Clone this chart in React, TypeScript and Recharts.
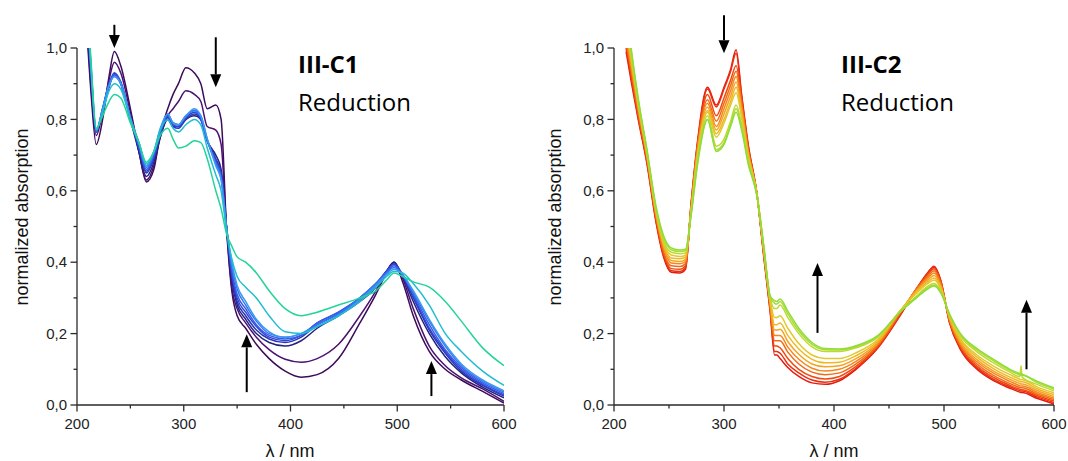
import React from 'react';
import { LineChart, Line, XAxis, YAxis, ReferenceLine } from 'recharts';

// ---------- left panel (III-C1) ----------
const WL_L = [209, 213, 218, 224, 230, 235, 241, 250, 258, 265, 272, 278, 285, 290, 295, 302, 310, 316, 322, 330, 335, 340, 345, 350, 358, 368, 380, 395, 410, 425, 445, 465, 480, 490, 497, 505, 515, 530, 545, 560, 580, 600];

const C1_A = [1.06, 0.88, 0.73, 0.8, 0.92, 0.99, 0.95, 0.83, 0.71, 0.625, 0.66, 0.76, 0.83, 0.87, 0.9, 0.945, 0.93, 0.9, 0.83, 0.84, 0.8, 0.5, 0.32, 0.25, 0.215, 0.17, 0.13, 0.095, 0.078, 0.085, 0.13, 0.23, 0.31, 0.37, 0.4, 0.345, 0.25, 0.15, 0.1, 0.07, 0.038, 0.005];
const C1_B = [1.08, 0.9, 0.755, 0.82, 0.91, 0.96, 0.93, 0.82, 0.71, 0.63, 0.67, 0.75, 0.81, 0.83, 0.85, 0.88, 0.87, 0.85, 0.78, 0.77, 0.73, 0.5, 0.33, 0.27, 0.23, 0.19, 0.155, 0.128, 0.12, 0.13, 0.17, 0.25, 0.32, 0.375, 0.4, 0.355, 0.27, 0.165, 0.11, 0.076, 0.045, 0.01];
const C1_C = [1.1, 0.92, 0.765, 0.82, 0.89, 0.93, 0.9, 0.8, 0.71, 0.64, 0.68, 0.75, 0.8, 0.78, 0.78, 0.8, 0.81, 0.8, 0.74, 0.7, 0.66, 0.5, 0.35, 0.28, 0.24, 0.2, 0.175, 0.165, 0.18, 0.215, 0.25, 0.29, 0.33, 0.375, 0.4, 0.36, 0.29, 0.2, 0.135, 0.09, 0.05, 0.02];
const C1_D = [1.11, 0.93, 0.765, 0.83, 0.895, 0.925, 0.9, 0.8, 0.72, 0.65, 0.69, 0.755, 0.805, 0.78, 0.775, 0.8, 0.815, 0.8, 0.74, 0.69, 0.65, 0.5, 0.36, 0.29, 0.25, 0.21, 0.185, 0.175, 0.19, 0.225, 0.255, 0.295, 0.335, 0.375, 0.395, 0.36, 0.3, 0.21, 0.145, 0.095, 0.055, 0.025];
const C1_E = [1.12, 0.94, 0.765, 0.83, 0.9, 0.93, 0.905, 0.8, 0.72, 0.655, 0.695, 0.76, 0.81, 0.785, 0.78, 0.805, 0.82, 0.8, 0.74, 0.685, 0.645, 0.5, 0.37, 0.3, 0.26, 0.22, 0.19, 0.18, 0.195, 0.23, 0.26, 0.3, 0.34, 0.375, 0.395, 0.365, 0.305, 0.215, 0.15, 0.1, 0.058, 0.028];
const C1_F = [1.12, 0.94, 0.765, 0.83, 0.9, 0.925, 0.905, 0.805, 0.725, 0.66, 0.7, 0.765, 0.81, 0.79, 0.785, 0.81, 0.825, 0.805, 0.74, 0.68, 0.64, 0.5, 0.38, 0.31, 0.27, 0.225, 0.195, 0.185, 0.195, 0.23, 0.26, 0.3, 0.34, 0.37, 0.39, 0.365, 0.31, 0.225, 0.155, 0.105, 0.062, 0.032];
const C1_G = [1.13, 0.95, 0.77, 0.83, 0.895, 0.92, 0.9, 0.805, 0.73, 0.665, 0.705, 0.77, 0.815, 0.79, 0.785, 0.81, 0.825, 0.81, 0.745, 0.675, 0.635, 0.5, 0.39, 0.325, 0.28, 0.235, 0.2, 0.19, 0.2, 0.225, 0.255, 0.3, 0.34, 0.37, 0.385, 0.365, 0.315, 0.235, 0.165, 0.11, 0.066, 0.036];
const C1_H = [1.13, 0.95, 0.77, 0.83, 0.895, 0.92, 0.9, 0.805, 0.735, 0.67, 0.71, 0.775, 0.815, 0.79, 0.785, 0.81, 0.83, 0.81, 0.745, 0.67, 0.63, 0.5, 0.4, 0.335, 0.29, 0.24, 0.205, 0.19, 0.2, 0.22, 0.25, 0.295, 0.335, 0.365, 0.38, 0.365, 0.32, 0.24, 0.17, 0.115, 0.07, 0.04];
const C1_I = [1.14, 0.96, 0.77, 0.82, 0.88, 0.9, 0.885, 0.8, 0.735, 0.675, 0.71, 0.77, 0.8, 0.775, 0.765, 0.785, 0.8, 0.785, 0.72, 0.645, 0.6, 0.49, 0.41, 0.36, 0.33, 0.3, 0.25, 0.205, 0.2, 0.22, 0.25, 0.29, 0.33, 0.36, 0.375, 0.37, 0.34, 0.28, 0.2, 0.15, 0.095, 0.055];
const C1_J = [1.15, 0.97, 0.775, 0.81, 0.85, 0.87, 0.86, 0.79, 0.735, 0.68, 0.71, 0.755, 0.775, 0.745, 0.72, 0.725, 0.74, 0.735, 0.69, 0.6, 0.55, 0.48, 0.445, 0.415, 0.4, 0.37, 0.32, 0.27, 0.25, 0.26, 0.28, 0.3, 0.32, 0.35, 0.37, 0.36, 0.345, 0.33, 0.29, 0.235, 0.16, 0.11];

// ---------- right panel (III-C2) ----------
const WL_R = [211, 216, 222, 230, 238, 245, 252, 260, 265, 270, 276, 285, 293, 300, 306, 311, 316, 322, 330, 336, 342, 346, 348, 351, 358, 368, 380, 392, 405, 420, 440, 460, 475, 485, 491, 497, 505, 515, 530, 545, 560, 569, 570, 571, 585, 600];

const C2_1 = [0.99, 0.9, 0.8, 0.675, 0.515, 0.415, 0.372, 0.37, 0.38, 0.56, 0.74, 0.89, 0.84, 0.89, 0.94, 0.995, 0.87, 0.73, 0.59, 0.42, 0.26, 0.14, 0.14, 0.13, 0.105, 0.08, 0.062, 0.058, 0.068, 0.1, 0.16, 0.25, 0.325, 0.37, 0.389, 0.35, 0.23, 0.155, 0.1, 0.068, 0.047, 0.036, 0.035, 0.035, 0.018, 0.003];
const C2_2 = [1.0, 0.91, 0.805, 0.68, 0.52, 0.42, 0.376, 0.374, 0.384, 0.56, 0.735, 0.885, 0.835, 0.885, 0.935, 0.985, 0.865, 0.725, 0.59, 0.423, 0.265, 0.15, 0.15, 0.145, 0.115, 0.09, 0.07, 0.064, 0.072, 0.103, 0.162, 0.252, 0.326, 0.368, 0.386, 0.348, 0.232, 0.158, 0.104, 0.072, 0.051, 0.04, 0.039, 0.039, 0.022, 0.007];
const C2_3 = [1.01, 0.92, 0.81, 0.685, 0.525, 0.425, 0.382, 0.38, 0.39, 0.555, 0.73, 0.87, 0.81, 0.86, 0.91, 0.95, 0.855, 0.72, 0.59, 0.426, 0.27, 0.165, 0.165, 0.16, 0.13, 0.1, 0.08, 0.073, 0.08, 0.108, 0.165, 0.255, 0.326, 0.365, 0.382, 0.346, 0.235, 0.162, 0.109, 0.077, 0.055, 0.044, 0.043, 0.043, 0.026, 0.011];
const C2_4 = [1.02, 0.93, 0.82, 0.69, 0.53, 0.43, 0.39, 0.388, 0.396, 0.55, 0.725, 0.855, 0.795, 0.845, 0.895, 0.935, 0.845, 0.715, 0.59, 0.43, 0.275, 0.18, 0.18, 0.18, 0.148, 0.115, 0.092, 0.085, 0.09, 0.115, 0.168, 0.257, 0.325, 0.36, 0.376, 0.342, 0.237, 0.166, 0.115, 0.083, 0.06, 0.049, 0.048, 0.048, 0.03, 0.015];
const C2_5 = [1.03, 0.94, 0.83, 0.695, 0.535, 0.44, 0.398, 0.396, 0.402, 0.55, 0.72, 0.845, 0.78, 0.83, 0.88, 0.92, 0.835, 0.71, 0.59, 0.433, 0.28, 0.195, 0.195, 0.195, 0.162, 0.128, 0.103, 0.095, 0.1, 0.122, 0.172, 0.26, 0.323, 0.355, 0.37, 0.338, 0.24, 0.171, 0.121, 0.089, 0.066, 0.054, 0.053, 0.053, 0.035, 0.019];
const C2_6 = [1.05, 0.95, 0.835, 0.7, 0.54, 0.445, 0.405, 0.402, 0.408, 0.545, 0.71, 0.835, 0.77, 0.815, 0.865, 0.905, 0.825, 0.705, 0.59, 0.436, 0.285, 0.21, 0.21, 0.212, 0.178, 0.142, 0.115, 0.107, 0.11, 0.13, 0.176, 0.262, 0.32, 0.35, 0.363, 0.334, 0.243, 0.176, 0.127, 0.095, 0.072, 0.06, 0.059, 0.059, 0.04, 0.024];
const C2_7 = [1.06, 0.96, 0.84, 0.7, 0.545, 0.45, 0.412, 0.41, 0.414, 0.54, 0.705, 0.825, 0.76, 0.8, 0.85, 0.89, 0.815, 0.7, 0.59, 0.44, 0.29, 0.225, 0.225, 0.23, 0.195, 0.157, 0.128, 0.118, 0.12, 0.138, 0.18, 0.263, 0.317, 0.345, 0.356, 0.33, 0.246, 0.181, 0.134, 0.102, 0.078, 0.066, 0.065, 0.065, 0.045, 0.029];
const C2_8 = [1.07, 0.965, 0.845, 0.705, 0.55, 0.455, 0.42, 0.416, 0.42, 0.54, 0.7, 0.82, 0.75, 0.79, 0.84, 0.875, 0.805, 0.695, 0.588, 0.443, 0.295, 0.245, 0.245, 0.25, 0.215, 0.172, 0.14, 0.13, 0.13, 0.146, 0.184, 0.264, 0.313, 0.34, 0.35, 0.326, 0.249, 0.186, 0.14, 0.109, 0.085, 0.072, 0.071, 0.071, 0.05, 0.034];
const C2_9 = [1.09, 0.975, 0.85, 0.71, 0.55, 0.46, 0.428, 0.424, 0.426, 0.535, 0.69, 0.81, 0.725, 0.745, 0.795, 0.84, 0.785, 0.685, 0.587, 0.446, 0.3, 0.27, 0.27, 0.28, 0.245, 0.2, 0.163, 0.15, 0.15, 0.16, 0.19, 0.262, 0.305, 0.332, 0.34, 0.32, 0.252, 0.193, 0.149, 0.118, 0.092, 0.079, 0.11, 0.078, 0.057, 0.04];
const C2_10 = [1.1, 0.985, 0.855, 0.71, 0.555, 0.47, 0.435, 0.43, 0.432, 0.53, 0.68, 0.8, 0.715, 0.735, 0.785, 0.83, 0.78, 0.68, 0.586, 0.448, 0.302, 0.285, 0.283, 0.29, 0.255, 0.208, 0.17, 0.155, 0.154, 0.163, 0.193, 0.261, 0.302, 0.328, 0.336, 0.317, 0.254, 0.197, 0.154, 0.124, 0.097, 0.084, 0.083, 0.083, 0.062, 0.045];
const C2_11 = [1.12, 0.99, 0.86, 0.715, 0.56, 0.475, 0.44, 0.434, 0.436, 0.53, 0.675, 0.8, 0.71, 0.73, 0.78, 0.82, 0.77, 0.675, 0.585, 0.45, 0.305, 0.292, 0.29, 0.297, 0.263, 0.215, 0.175, 0.158, 0.157, 0.166, 0.195, 0.26, 0.3, 0.325, 0.333, 0.314, 0.255, 0.2, 0.158, 0.128, 0.1, 0.088, 0.087, 0.086, 0.066, 0.048];

const X_TICKS = [200, 250, 300, 350, 400, 450, 500, 550, 600];
const Y_TICKS = [0, 0.1, 0.2, 0.3, 0.4, 0.5, 0.6, 0.7, 0.8, 0.9, 1.0];

// arrows in data units: wavelength, start value, tip value
const ARROWS_L = [
  { x: 235, from: 1.065, to: 1.0 },
  { x: 330, from: 1.03, to: 0.89 },
  { x: 359, from: 0.036, to: 0.198 },
  { x: 532, from: 0.025, to: 0.123 },
];
const ARROWS_R = [
  { x: 300, from: 1.092, to: 0.985 },
  { x: 385, from: 0.202, to: 0.398 },
  { x: 575, from: 0.1, to: 0.295 },
];

const C1_SERIES = [C1_A, C1_B, C1_C, C1_D, C1_E, C1_F, C1_G, C1_H, C1_I, C1_J];
const C1_COLORS = ['#3c0a5a', '#4b1272', '#24247e', '#2a36b4', '#3145d6', '#3a5ae8', '#3377f0', '#3a98f2', '#20bcd2', '#22d49c'];
const C2_SERIES = [C2_1, C2_2, C2_3, C2_4, C2_5, C2_6, C2_7, C2_8, C2_9, C2_10, C2_11];
const C2_COLORS = ['#e51a0e', '#ea2e10', '#ee4a12', '#f26a16', '#f4861c', '#f5a322', '#f0b826', '#e2c82a', '#c2d830', '#a4de34', '#90dc38'];

const toRows = (wl: number[], series: number[][]) =>
  wl.map((w, i) => {
    const row: Record<string, number> = { wl: w };
    series.forEach((s, k) => {
      row['s' + k] = s[i];
    });
    return row;
  });

const AXIS = '#2a2a2a';
const FONT = '"Liberation Sans", Arial, sans-serif';

function XTick(props: any) {
  const { x, y, payload } = props;
  const major = payload.value % 100 === 0;
  return (
    <g>
      <line x1={x} y1={y} x2={x} y2={y + (major ? 6.5 : 3.5)} stroke={AXIS} strokeWidth={1.3} />
      {major && (
        <text x={x} y={y + 13} dy="0.71em" textAnchor="middle" fontSize={15} fill="#222" fontFamily={FONT}>
          {payload.value}
        </text>
      )}
    </g>
  );
}

function YTick(props: any) {
  const { x, y, payload } = props;
  const major = Math.round(payload.value * 10) % 2 === 0;
  return (
    <g>
      <line x1={x} y1={y} x2={x - (major ? 6.5 : 3.5)} y2={y} stroke={AXIS} strokeWidth={1.3} />
      {major && (
        <text x={x - 10} y={y} dy="0.35em" textAnchor="end" fontSize={15} fill="#222" fontFamily={FONT}>
          {payload.value.toFixed(1).replace('.', ',')}
        </text>
      )}
    </g>
  );
}

const ArrowShape = (p: any) => {
  const { x1, y1, x2, y2 } = p;
  const dir = y2 > y1 ? 1 : -1;
  const base = y2 - dir * 13;
  return (
    <g>
      <line x1={x1} y1={y1} x2={x2} y2={base} stroke="#000" strokeWidth={2} />
      <polygon points={`${x2},${y2} ${x2 - 5.5},${base} ${x2 + 5.5},${base}`} fill="#000" />
    </g>
  );
};

interface PanelProps {
  left: number;
  width: number;
  marginLeft: number;
  marginRight: number;
  wl: number[];
  series: number[][];
  colors: string[];
  arrows: { x: number; from: number; to: number }[];
}

function Panel({ left, width, marginLeft, marginRight, wl, series, colors, arrows }: PanelProps) {
  const rows = toRows(wl, series);
  return (
    <div style={{ position: 'absolute', left, top: 0 }}>
      <LineChart
        width={width}
        height={461}
        data={rows}
        margin={{ top: 48, right: marginRight, bottom: 6, left: marginLeft }}
      >
        <XAxis
          dataKey="wl"
          type="number"
          domain={[200, 600]}
          ticks={X_TICKS}
          interval={0}
          allowDataOverflow
          tick={<XTick />}
          tickLine={false}
          tickSize={0}
          tickMargin={0}
          height={50}
          axisLine={{ stroke: AXIS, strokeWidth: 1.3 }}
        />
        <YAxis
          type="number"
          domain={[0, 1]}
          ticks={Y_TICKS}
          interval={0}
          allowDataOverflow
          tick={<YTick />}
          tickLine={false}
          tickSize={0}
          tickMargin={0}
          width={60}
          axisLine={{ stroke: AXIS, strokeWidth: 1.3 }}
        />
        {series.map((_, k) => (
          <Line
            key={k}
            dataKey={'s' + k}
            type="monotone"
            stroke={colors[k]}
            strokeWidth={1.5}
            dot={false}
            isAnimationActive={false}
          />
        ))}
        {arrows.map((a, i) => (
          <ReferenceLine
            key={i}
            segment={[{ x: a.x, y: a.from }, { x: a.x, y: a.to }]}
            ifOverflow="visible"
            shape={ArrowShape}
          />
        ))}
      </LineChart>
    </div>
  );
}

export default function App() {
  const titleFont = '"Open Sans", "Noto Sans", sans-serif';
  return (
    <div style={{ position: 'absolute', left: 0, top: 0, width: 1068, height: 461, background: '#fff' }}>
      <Panel left={0} width={540} marginLeft={17} marginRight={36} wl={WL_L} series={C1_SERIES} colors={C1_COLORS} arrows={ARROWS_L} />
      <Panel left={536} width={532} marginLeft={18} marginRight={14} wl={WL_R} series={C2_SERIES} colors={C2_COLORS} arrows={ARROWS_R} />
      <svg width={1068} height={461} style={{ position: 'absolute', left: 0, top: 0, pointerEvents: 'none' }}>
        <text x={298} y={73} fontFamily={titleFont} fontWeight={700} fontSize={24} fill="#000">III-C1</text>
        <text x={298} y={111} fontFamily={titleFont} fontSize={24} fill="#000">Reduction</text>
        <text x={841} y={73} fontFamily={titleFont} fontWeight={700} fontSize={24} fill="#000">III-C2</text>
        <text x={841} y={111} fontFamily={titleFont} fontSize={24} fill="#000">Reduction</text>
        <text transform="translate(22,217) rotate(-90)" textAnchor="middle" dy="0.35em" fontFamily={FONT} fontSize={18} fill="#111">normalized absorption</text>
        <text transform="translate(555,217) rotate(-90)" textAnchor="middle" dy="0.35em" fontFamily={FONT} fontSize={18} fill="#111">normalized absorption</text>
        <text x={290} y={457} textAnchor="middle" fontFamily={FONT} fontSize={18} fill="#111">λ / nm</text>
        <text x={834} y={457} textAnchor="middle" fontFamily={FONT} fontSize={18} fill="#111">λ / nm</text>
      </svg>
    </div>
  );
}
